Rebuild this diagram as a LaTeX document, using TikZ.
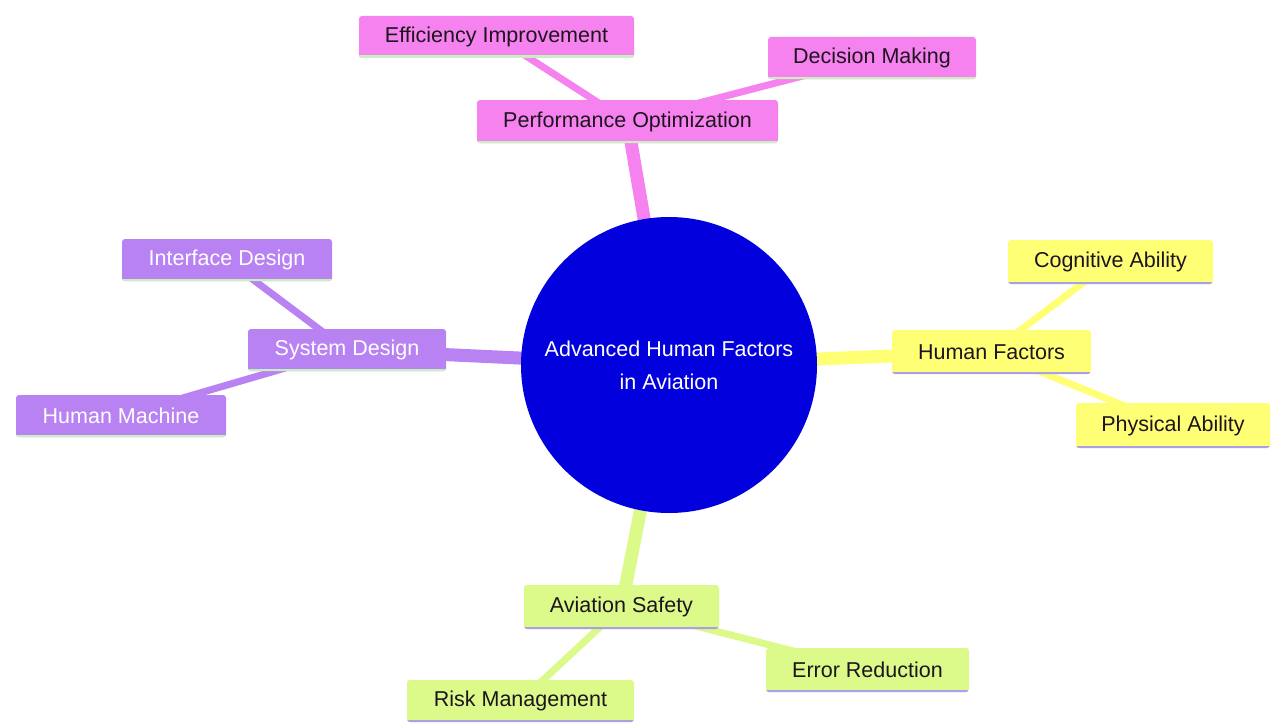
\documentclass[tikz,border=0pt]{standalone}
\usepackage{fontspec}
\setmainfont{Liberation Sans}
\usetikzlibrary{backgrounds}
\definecolor{pinkc}{RGB}{246,130,240}
\definecolor{yelc}{RGB}{255,255,118}
\definecolor{purc}{RGB}{184,130,242}
\definecolor{limec}{RGB}{219,250,138}
\definecolor{bluec}{RGB}{2,0,220}
\definecolor{ulgreen}{RGB}{200,240,190}
\definecolor{ullav}{RGB}{170,160,232}
\definecolor{txtdark}{RGB}{30,20,30}
\tikzset{
  box/.style={rectangle, rounded corners=3pt, inner sep=0pt, font=\fontsize{21.5}{26}\selectfont},
  ul/.style={path picture={\draw[line width=5pt, #1] (path picture bounding box.south west) -- (path picture bounding box.south east);}},
  pinkbox/.style={box, fill=pinkc, text=txtdark, ul=ulgreen},
  yelbox/.style={box, fill=yelc, text=txtdark, ul=ullav},
  purbox/.style={box, fill=purc, text=white, ul=ulgreen},
  limebox/.style={box, fill=limec, text=txtdark, ul=ullav},
  mainlink/.style={line width=13pt},
  leaflink/.style={line width=7pt},
}
\begin{document}
\begin{tikzpicture}[x=1pt,y=-1pt]
\useasboundingbox (0,0) rectangle (1271,725);
% nodes
\node[pinkbox, minimum width=301pt, minimum height=43pt] (perf) at (627.5,121.5) {Performance Optimization};
\node[pinkbox, minimum width=275pt, minimum height=42pt] (eff) at (496.5,37) {Efficiency Improvement};
\node[pinkbox, minimum width=208pt, minimum height=42pt] (dec) at (872,58) {Decision Making};
\node[yelbox, minimum width=199pt, minimum height=44pt] (hf) at (991.5,352) {Human Factors};
\node[yelbox, minimum width=205pt, minimum height=44pt] (cog) at (1110.5,262) {Cognitive Ability};
\node[yelbox, minimum width=194pt, minimum height=45pt] (phys) at (1173,425.5) {Physical Ability};
\node[purbox, minimum width=198pt, minimum height=42pt] (sysd) at (347,350) {System Design};
\node[purbox, minimum width=210pt, minimum height=42pt] (intf) at (227,260) {Interface Design};
\node[purbox, minimum width=210pt, minimum height=42pt] (hm) at (121,416) {Human Machine};
\node[limebox, minimum width=195pt, minimum height=44pt] (avs) at (621.5,607) {Aviation Safety};
\node[limebox, minimum width=227pt, minimum height=42pt] (risk) at (520.5,701) {Risk Management};
\node[limebox, minimum width=203pt, minimum height=44pt] (err) at (867.5,670) {Error Reduction};
\node[circle, fill=bluec, minimum size=296pt, inner sep=0pt, text=white, align=center,
      font=\fontsize{21.5}{33}\selectfont] (root) at (669,365) {Advanced Human Factors\\in Aviation};
% connectors behind nodes
\begin{scope}[on background layer]
\fill[white] (0,0) rectangle (1271,725);
\draw[mainlink, pinkc] (root.center) -- (perf.center);
\draw[mainlink, yelc] (root.center) -- (hf.center);
\draw[mainlink, purc] (root.center) -- (sysd.center);
\draw[mainlink, limec] (root.center) -- (avs.center);
\draw[leaflink, pinkc] (perf.center) -- (eff.center);
\draw[leaflink, pinkc] (perf.center) -- (dec.center);
\draw[leaflink, yelc] (hf.center) -- (cog.center);
\draw[leaflink, yelc] (hf.center) -- (phys.center);
\draw[leaflink, purc] (sysd.center) -- (intf.center);
\draw[leaflink, purc] (sysd.center) -- (hm.center);
\draw[leaflink, limec] (avs.center) -- (risk.center);
\draw[leaflink, limec] (avs.center) -- (err.center);
\end{scope}
\end{tikzpicture}
\end{document}
